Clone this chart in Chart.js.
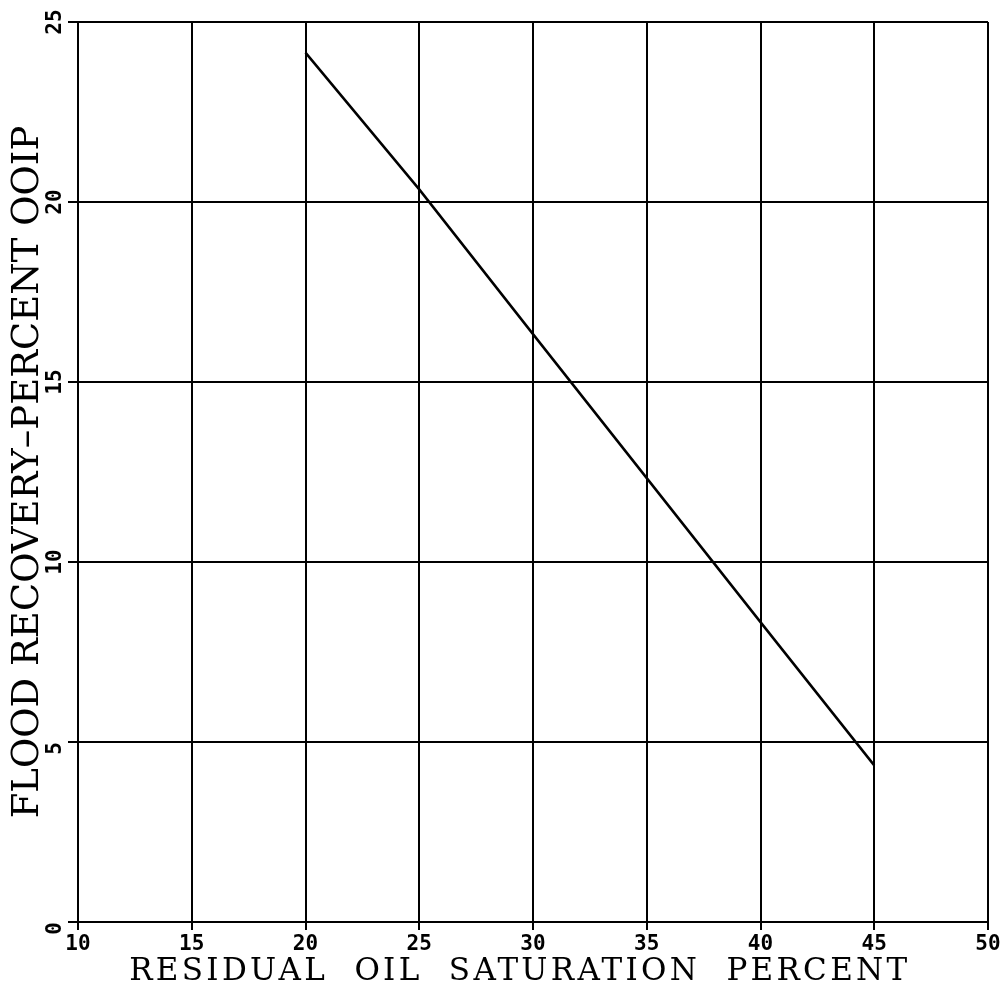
<!DOCTYPE html>
<html>
<head>
<meta charset="utf-8">
<script src="https://cdn.jsdelivr.net/npm/chart.js@4"></script>
<style>
  html, body { margin: 0; padding: 0; background: #fff; }
  #wrap { width: 1006px; height: 992px; }
</style>
</head>
<body>
<div id="wrap"><canvas id="c"></canvas></div>
<script>
// Residual oil saturation (%) and the matching flood recovery (% OOIP)
const saturation = [20, 25, 30, 35, 40, 45];
const recovery = [24.15, 20.35, 16.33, 12.33, 8.33, 4.35];

// Axis ranges and tick step
const xRange = [10, 50];
const yRange = [0, 25];
const tickStep = 5;

// trailing blanks nudge the centred title a little to the left
const xTitle = 'RESIDUAL  OIL  SATURATION  PERCENT  ';
const yTitle = 'FLOOD RECOVERY\u2013PERCENT OOIP';

// Linear scale whose title can be drawn with extra letter spacing
class SpacedLinearScale extends Chart.LinearScale {
  drawTitle() {
    const ctx = this.ctx;
    const spacing = this.options.title.letterSpacing || 0;
    ctx.save();
    ctx.letterSpacing = spacing + 'px';
    super.drawTitle();
    ctx.restore();
  }
}
SpacedLinearScale.id = 'spacedLinear';
SpacedLinearScale.defaults = Chart.LinearScale.defaults;
Chart.register(SpacedLinearScale);

const tickFont = { family: 'DejaVu Sans Mono', size: 21, weight: 'bold' };

new Chart(document.getElementById('c'), {
  type: 'scatter',
  data: {
    datasets: [{
      data: saturation.map((x, i) => ({ x: x, y: recovery[i] })),
      showLine: true,
      borderColor: '#000',
      borderWidth: 2.5,
      pointRadius: 0,
      tension: 0
    }]
  },
  options: {
    responsive: true,
    maintainAspectRatio: false,
    animation: false,
    layout: { padding: { top: 22, right: 18, left: 0, bottom: 0 } },
    plugins: { legend: { display: false }, tooltip: { enabled: false } },
    scales: {
      x: {
        type: 'spacedLinear',
        position: 'bottom',
        min: xRange[0],
        max: xRange[1],
        afterFit: s => { s.height = 70; },
        grid: { color: '#000', lineWidth: 2, tickLength: 8, drawTicks: true },
        border: { color: '#000', width: 2 },
        ticks: {
          stepSize: tickStep,
          autoSkip: false,
          maxRotation: 0,
          minRotation: 0,
          padding: 2,
          color: '#000',
          font: tickFont
        },
        title: {
          display: true,
          text: xTitle,
          color: '#000',
          letterSpacing: 3.3,
          font: { family: 'DejaVu Serif', size: 31 },
          padding: { top: 0, bottom: 1 }
        }
      },
      y: {
        type: 'spacedLinear',
        position: 'left',
        min: yRange[0],
        max: yRange[1],
        afterFit: s => { s.width = 78; },
        grid: { color: '#000', lineWidth: 2, tickLength: 10, drawTicks: true },
        border: { color: '#000', width: 2 },
        ticks: {
          stepSize: tickStep,
          autoSkip: false,
          minRotation: 90,
          maxRotation: 90,
          crossAlign: 'center',
          padding: 0,
          color: '#000',
          font: tickFont,
          callback: v => String(v).padEnd(2, ' ')
        },
        title: {
          display: true,
          text: yTitle,
          color: '#000',
          font: { family: 'DejaVu Serif', size: 37 },
          padding: { top: 6, bottom: 0 }
        }
      }
    }
  }
});
</script>
</body>
</html>
